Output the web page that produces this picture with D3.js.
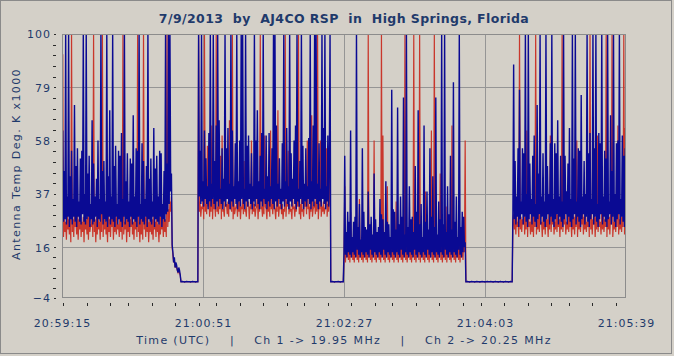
<!DOCTYPE html>
<html><head><meta charset="utf-8">
<script src="https://cdn.jsdelivr.net/npm/d3@7"></script>
<style>html,body{margin:0;padding:0;background:#d4d0c8;}svg{display:block}</style>
</head><body><svg id="c" width="674" height="356"></svg>
<script>
const titleText = "7/9/2013  by  AJ4CO RSP  in  High Springs, Florida";
const yAxisTitle = "Antenna Temp Deg. K x1000";
const xAxisTitle = "Time (UTC)    |    Ch 1 -> 19.95 MHz    |    Ch 2 -> 20.25 MHz";
const startTime = "20:59:15";
const endTime = "21:05:39";
const sampleStepSec = 0.5;
const xTickLabels = ["20:59:15","21:00:51","21:02:27","21:04:03","21:05:39"];
const yTickValues = [-4,16,37,58,79,100];

// Ch 1 (red), one sample every 0.5 s
const ch1Values = [
23,92,20,28,22,26,19,30,23,27,21,29,18,100,22,27,20,30,24,26,
21,29,19,27,23,31,20,26,22,28,18,30,23,27,21,28,19,31,22,25,
24,29,20,100,22,27,18,28,21,30,23,26,19,31,22,100,20,27,23,29,
21,26,18,30,22,27,20,28,24,30,19,27,22,29,21,28,23,25,20,31,
22,28,19,100,21,26,23,30,18,27,22,29,20,27,24,31,21,26,19,28,
23,30,20,100,22,26,18,29,21,27,19,100,23,28,20,30,22,28,18,26,
22,30,21,27,19,29,23,26,20,31,22,25,18,28,21,30,23,27,20,29,
22,27,20,100,24,31,26,34,30,36,
16,13,10,11,8,9,8,7,6,7,6,5,
2.4,2.4,2.5,2.4,2.4,2.3,2.4,2.4,2.5,2.4,2.4,2.4,
2.4,2.3,2.4,2.4,2.5,2.4,2.4,2.4,2.3,2.4,2.4,2.4,
100,30,34,28,32,31,35,27,100,30,33,29,56,32,36,28,34,30,64,27,
35,31,33,28,100,30,32,29,36,31,52,27,60,30,31,28,35,32,33,29,
34,28,66,31,32,30,100,27,35,29,31,32,33,28,36,30,34,27,32,31,
35,29,50,30,31,28,36,32,34,27,32,31,58,29,35,30,33,28,31,32,
36,27,34,30,100,31,32,28,35,29,60,32,31,27,36,30,34,28,62,31,
33,29,35,32,31,27,34,30,70,28,32,31,35,29,33,27,31,30,100,28,
34,32,54,29,33,30,31,27,35,31,32,28,34,30,36,32,100,29,33,27,
35,30,31,28,34,32,36,29,58,31,33,27,32,30,68,28,31,32,34,29,
36,30,100,27,33,31,58,28,32,30,34,29,31,32,55,28,33,30,34,60,
2.4,2.4,2.5,2.4,2.4,2.3,2.4,2.4,2.4,2.4,2.5,2.4,2.4,2.3,2.4,2.4,2.4,2.4,
11,40,10,18,12,16,11,19,10,30,12,17,11,15,10,18,12,19,11,16,
10,35,12,17,11,19,10,18,12,16,11,17,10,100,12,19,11,18,10,16,
12,58,11,17,10,19,12,15,11,18,10,100,12,60,11,17,10,19,12,40,
11,16,10,18,12,19,11,17,10,15,12,34,11,18,10,19,12,16,11,17,
10,19,12,100,11,18,10,16,12,19,11,17,10,18,12,100,11,19,10,16,
12,17,11,100,10,18,12,19,11,15,10,38,12,17,11,19,10,18,12,62,
11,16,10,100,12,19,11,17,10,18,12,45,11,19,10,16,12,17,11,32,
10,18,12,19,11,16,10,64,12,17,11,19,10,18,12,16,11,19,10,17,
12,18,11,19,14,58,
2.4,2.4,2.5,2.4,2.4,2.3,2.4,2.4,2.5,2.4,2.4,2.4,2.3,2.4,2.4,2.5,
2.4,2.4,2.4,2.3,2.4,2.4,2.5,2.4,2.4,2.4,2.3,2.4,2.4,2.5,2.4,2.4,
2.4,2.4,2.5,2.4,2.4,2.3,2.4,2.4,2.5,2.4,2.4,2.4,2.3,2.4,2.4,2.5,
2.4,2.4,2.4,2.3,2.4,2.4,2.5,2.4,2.4,2.4,2.3,2.4,2.4,2.5,2.4,2.4,
25,
29,23,27,21,30,24,26,20,100,23,28,22,27,25,31,21,28,23,62,20,
30,24,26,21,29,22,28,20,31,24,100,21,27,23,30,22,29,25,26,20,
28,23,31,21,29,24,27,20,30,23,60,22,28,25,30,21,26,23,31,22,
29,24,27,20,30,23,100,22,28,25,29,21,26,23,31,22,29,24,27,20,
30,23,28,21,29,24,58,20,31,23,29,22,27,25,30,21,28,23,29,22,
26,24,31,20,100,23,29,21,27,25,30,20,28,23,60,22,29,24,26,21,
31,23,29,22,27,24,100,20,30,23,28,21,29,25,100,20,26,23,30,22,
29,24,64,21,27,23,30,22,28,24,100,21,63,30
];

// Ch 2 (blue), one sample every 0.5 s
const ch2Values = [
29,62,26,46,27,100,25,36,28,100,24,44,27,54,25,35,28,72,26,48,
24,55,28,34,26,51,25,54,29,100,26,37,25,100,27,45,28,52,24,33,
27,66,25,49,26,36,28,43,24,58,27,35,26,100,29,46,25,50,27,34,
26,100,24,44,28,70,25,36,27,100,26,48,24,56,28,33,25,54,27,52,
26,61,24,35,28,100,25,42,27,53,26,34,24,51,28,49,25,68,27,36,
26,55,24,54,28,100,25,33,27,57,26,50,25,35,28,48,24,100,27,43,
26,51,25,34,28,63,24,47,27,52,26,36,25,54,28,53,24,33,27,46,
26,100,29,49,30,100,33,100,38,45,
17,14,10,12,8,10,9,7,6,8,7,5,
2.4,2.4,2.5,2.4,2.4,2.3,2.4,2.4,2.5,2.4,2.4,2.4,
2.4,2.3,2.4,2.4,2.5,2.4,2.4,2.4,2.3,2.4,2.4,2.4,
100,36,54,33,100,34,42,32,62,35,51,33,40,31,61,34,100,32,41,35,
100,33,50,31,64,34,100,32,66,35,39,33,55,31,43,34,100,32,55,35,
63,33,41,31,100,34,62,32,40,35,57,33,100,31,42,34,58,32,100,35,
100,33,39,31,100,34,56,32,60,35,41,33,53,31,40,34,100,32,58,35,
70,33,42,31,52,34,61,32,100,35,39,33,60,31,44,34,61,32,40,35,
55,33,100,31,100,34,64,32,41,35,51,33,39,31,57,34,100,32,42,35,
63,33,40,31,100,34,53,32,43,35,58,33,64,31,100,34,39,32,50,35,
100,33,56,31,41,34,55,32,40,35,59,33,100,31,42,34,64,32,100,35,
100,33,41,31,57,34,39,32,100,35,63,33,100,31,40,34,60,32,50,100,
2.4,2.4,2.5,2.4,2.4,2.3,2.4,2.4,2.4,2.4,2.5,2.4,2.4,2.3,2.4,2.4,2.4,2.4,
14,52,13,22,12,30,14,26,13,62,12,20,14,26,13,28,12,100,15,24,
13,33,12,19,14,55,13,30,12,24,14,23,13,38,12,25,15,28,13,21,
12,45,14,27,13,22,12,24,14,35,13,29,12,27,15,22,13,42,12,26,
14,25,13,20,12,78,14,31,13,30,12,23,14,71,13,25,12,36,15,28,
13,75,12,21,14,100,13,24,12,40,14,27,13,28,12,22,15,48,13,30,
12,70,14,25,13,33,12,20,14,64,13,26,12,38,15,23,13,55,12,28,
14,44,13,24,12,75,14,21,13,34,12,27,14,100,13,25,12,100,15,22,
13,40,12,29,14,52,13,23,12,81,14,26,13,36,12,20,15,100,13,24,
12,30,14,28,16,18,
2.4,2.4,2.5,2.4,2.4,2.3,2.4,2.4,2.5,2.4,2.4,2.4,2.3,2.4,2.4,2.5,
2.4,2.4,2.4,2.3,2.4,2.4,2.5,2.4,2.4,2.4,2.3,2.4,2.4,2.5,2.4,2.4,
2.4,2.4,2.5,2.4,2.4,2.3,2.4,2.4,2.5,2.4,2.4,2.4,2.3,2.4,2.4,2.5,
2.4,2.4,2.4,2.3,2.4,2.4,2.5,2.4,2.4,2.4,2.3,2.4,2.4,2.5,2.4,2.4,
30,
88,27,50,25,36,28,55,24,78,27,34,29,55,25,53,28,100,26,37,24,
100,27,49,29,35,25,52,28,60,26,33,24,72,27,45,29,100,25,36,28,
53,26,34,24,100,27,48,29,37,25,57,28,100,26,35,24,57,27,53,29,
66,25,36,28,52,26,34,24,100,27,52,29,38,25,49,28,63,26,35,24,
100,27,51,29,100,25,34,28,55,26,54,24,76,27,36,29,50,25,37,28,
100,26,53,24,61,27,35,29,100,25,55,28,100,26,33,24,61,27,57,29,
100,25,36,28,54,26,51,24,100,27,34,29,68,25,46,28,100,26,37,24,
57,27,58,29,100,25,35,28,60,26,52,24,55,40
];

const W = 674, H = 356;
const plot = {left: 62, right: 626, top: 34, bottom: 298};
const textColor = "#1f3a6b";
const font = "'DejaVu Sans', Verdana, sans-serif";

const svg = d3.select("#c");
svg.append("rect").attr("x",0.5).attr("y",0.5).attr("width",W-3).attr("height",H-3)
  .attr("fill","#d4d0c8").attr("stroke","#8a8a8a");

const parse = d3.timeParse("%H:%M:%S");
const t0 = parse(startTime), t1 = parse(endTime);
const x = d3.scaleTime().domain([t0, t1]).range([plot.left, plot.right]);
const y = d3.scaleLinear().domain([-4, 100]).range([plot.bottom, plot.top]);
const timeAt = i => new Date(t0.getTime() + i * sampleStepSec * 1000);

svg.append("rect").attr("x",plot.left).attr("y",plot.top)
  .attr("width",plot.right-plot.left).attr("height",plot.bottom-plot.top)
  .attr("fill","#d4d0c8");

const majorTimes = xTickLabels.map(parse);
svg.append("g").selectAll("line").data(majorTimes.slice(1,-1)).join("line")
  .attr("x1",d=>Math.round(x(d))+0.5).attr("x2",d=>Math.round(x(d))+0.5)
  .attr("y1",plot.top).attr("y2",plot.bottom)
  .attr("stroke","#959595").attr("stroke-width",1);
svg.append("g").selectAll("line").data(yTickValues.slice(1,-1)).join("line")
  .attr("y1",d=>Math.round(y(d))+0.5).attr("y2",d=>Math.round(y(d))+0.5)
  .attr("x1",plot.left).attr("x2",plot.right)
  .attr("stroke","#959595").attr("stroke-width",1);

svg.append("clipPath").attr("id","clip").append("rect")
  .attr("x",plot.left).attr("y",plot.top)
  .attr("width",plot.right-plot.left).attr("height",plot.bottom-plot.top);

const line = d3.line().x((d,i)=>x(timeAt(i))).y(d=>y(d));
const g = svg.append("g").attr("clip-path","url(#clip)");
g.append("path").datum(ch1Values).attr("d",line)
  .attr("fill","none").attr("stroke","#c9372c").attr("stroke-width",1.2).attr("stroke-linejoin","miter");
g.append("path").datum(ch2Values).attr("d",line)
  .attr("fill","none").attr("stroke","#0a0a93").attr("stroke-width",1.4).attr("stroke-linejoin","miter");

svg.append("rect").attr("x",plot.left+0.5).attr("y",plot.top+0.5)
  .attr("width",plot.right-plot.left-1).attr("height",plot.bottom-plot.top-1)
  .attr("fill","none").attr("stroke","#8c8c8c");

// X axis ticks
const fmt = d3.timeFormat("%H:%M:%S");
const minorTimes = d3.timeSecond.every(16).range(t0, new Date(t1.getTime()+1000));
svg.append("g").selectAll("line").data(minorTimes).join("line")
  .attr("x1",d=>Math.round(x(d))+0.5).attr("x2",d=>Math.round(x(d))+0.5)
  .attr("y1",d=> xTickLabels.includes(fmt(d)) ? 302 : 303)
  .attr("y2",d=> xTickLabels.includes(fmt(d)) ? 309 : 306)
  .attr("stroke","#2a2a2a");
const xAxis = d3.axisBottom(x).tickValues(majorTimes).tickFormat(fmt).tickSize(0).tickPadding(0);
const xg = svg.append("g").attr("transform",`translate(0,${plot.bottom})`).call(xAxis);
xg.select(".domain").remove();
xg.selectAll("text").attr("y",29).attr("dy",0)
  .attr("font-family",font).attr("font-size",11).attr("letter-spacing","1px")
  .attr("fill",textColor);

// Y axis ticks
const yMinor = [];
for (let k = 0; k < yTickValues.length - 1; k++) {
  const a = yTickValues[k], b = yTickValues[k+1];
  for (let j = 1; j < 5; j++) yMinor.push(a + (b - a) * j / 5);
}
svg.append("g").selectAll("line").data(yMinor).join("line")
  .attr("x1",53).attr("x2",56)
  .attr("y1",d=>Math.round(y(d))+0.5).attr("y2",d=>Math.round(y(d))+0.5)
  .attr("stroke","#2a2a2a");
svg.append("g").selectAll("line").data(yTickValues).join("line")
  .attr("x1",54).attr("x2",56)
  .attr("y1",d=>Math.round(y(d))+0.5).attr("y2",d=>Math.round(y(d))+0.5)
  .attr("stroke","#2a2a2a");
const yAxis = d3.axisLeft(y).tickValues(yTickValues).tickSize(0).tickPadding(0);
const yg = svg.append("g").attr("transform",`translate(51,0)`).call(yAxis);
yg.select(".domain").remove();
yg.selectAll("text").attr("x",0).attr("dy","0.36em")
  .attr("font-family",font).attr("font-size",11).attr("letter-spacing","1px")
  .attr("fill",textColor);

// Titles
svg.append("text").attr("x",(plot.left+plot.right)/2).attr("y",23)
  .attr("text-anchor","middle").attr("font-family",font).attr("font-size",12.5)
  .attr("font-weight","bold").attr("letter-spacing","0.4px").attr("fill",textColor)
  .style("white-space","pre").text(titleText);
svg.append("text").attr("transform",`translate(20,${(plot.top+plot.bottom)/2 - 2}) rotate(-90)`)
  .attr("text-anchor","middle").attr("font-family",font).attr("font-size",11)
  .attr("letter-spacing","1.4px").attr("fill",textColor).text(yAxisTitle);
svg.append("text").attr("x",(plot.left+plot.right)/2).attr("y",344)
  .attr("text-anchor","middle").attr("font-family",font).attr("font-size",11)
  .attr("letter-spacing","1.35px").attr("fill",textColor)
  .style("white-space","pre").text(xAxisTitle);
</script></body></html>
